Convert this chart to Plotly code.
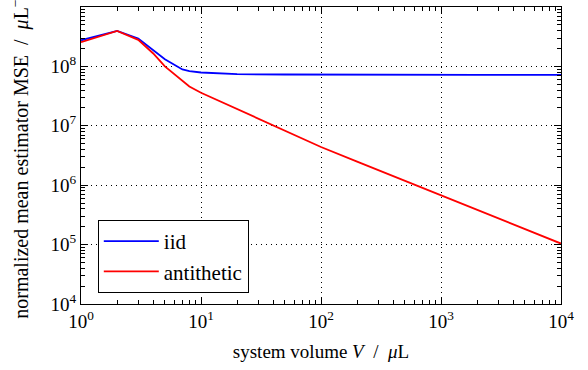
import plotly.graph_objects as go

volume = [1, 2, 3, 4, 5, 7, 8, 10, 20, 50, 100, 200, 500, 1000, 2000, 5000, 10000]
mse_iid = [2.75e8, 3.95e8, 2.95e8, 1.9e8, 1.32e8, 8.9e7, 8.3e7, 7.9e7, 7.4e7, 7.3e7, 7.25e7,
           7.2e7, 7.2e7, 7.2e7, 7.2e7, 7.2e7, 7.2e7]
mse_anti = [2.55e8, 3.95e8, 2.8e8, 1.65e8, 1.0e8, 5.8e7, 4.6e7, 3.6e7, 1.9e7, 8.3e6, 4.4e6,
            2.5e6, 1.18e6, 6.7e5, 3.8e5, 1.8e5, 1.04e5]

x_tickvals = [1, 10, 100, 1000, 10000]
x_ticktext = ["10<sup>0</sup>", "10<sup>1</sup>", "10<sup>2</sup>", "10<sup>3</sup>", "10<sup>4</sup>"]
y_tickvals = [1e4, 1e5, 1e6, 1e7, 1e8, 1e9]
y_ticktext = ["10<sup>4</sup>", "10<sup>5</sup>", "10<sup>6</sup>", "10<sup>7</sup>", "10<sup>8</sup>", "10<sup>9</sup>"]

x_minor = [m * 10 ** e for e in range(0, 4) for m in range(2, 10)]
y_minor = [m * 10 ** e for e in range(4, 9) for m in range(2, 10)]

font_family = "Liberation Serif, DejaVu Serif, serif"

fig = go.Figure()
fig.add_trace(go.Scatter(x=volume, y=mse_iid, mode="lines", name="iid",
                         line=dict(color="#0000ff", width=1.8)))
fig.add_trace(go.Scatter(x=volume, y=mse_anti, mode="lines", name="antithetic",
                         line=dict(color="#ff0000", width=1.8)))

axis_common = dict(
    type="log", showline=True, linecolor="black", linewidth=1.2, mirror="ticks",
    ticks="inside", ticklen=7, tickwidth=1, tickcolor="black",
    showgrid=True, gridcolor="black", griddash="1px,4px", gridwidth=1,
    zeroline=False,
    tickfont=dict(family=font_family, size=19, color="black"),
)

fig.update_xaxes(range=[0, 4], tickvals=x_tickvals, ticktext=x_ticktext,
                 minor=dict(tickvals=x_minor, ticks="inside", ticklen=3.5,
                            tickcolor="black", showgrid=False),
                 title=dict(text="system volume <i>V</i>  /  <i>μ</i>L",
                            font=dict(family=font_family, size=19, color="black"),
                            standoff=13),
                 **axis_common)
fig.update_yaxes(range=[4, 9], tickvals=y_tickvals, ticktext=y_ticktext,
                 minor=dict(tickvals=y_minor, ticks="inside", ticklen=3.5,
                            tickcolor="black", showgrid=False),
                 title=dict(text="normalized mean estimator MSE  /  <i>μ</i>L<sup>−1</sup>",
                            font=dict(family=font_family, size=20, color="black"),
                            standoff=16),
                 **axis_common)

fig.update_layout(
    width=588, height=370,
    margin=dict(l=81, r=27, t=7, b=66),
    plot_bgcolor="white", paper_bgcolor="white",
    font=dict(family=font_family, color="black"),
    legend=dict(x=0.035, y=0.283, xanchor="left", yanchor="top",
                bgcolor="white", bordercolor="black", borderwidth=1,
                font=dict(family=font_family, size=21, color="black"),
                itemwidth=55, tracegroupgap=4),
    showlegend=True,
)

fig.write_html("out.html")
